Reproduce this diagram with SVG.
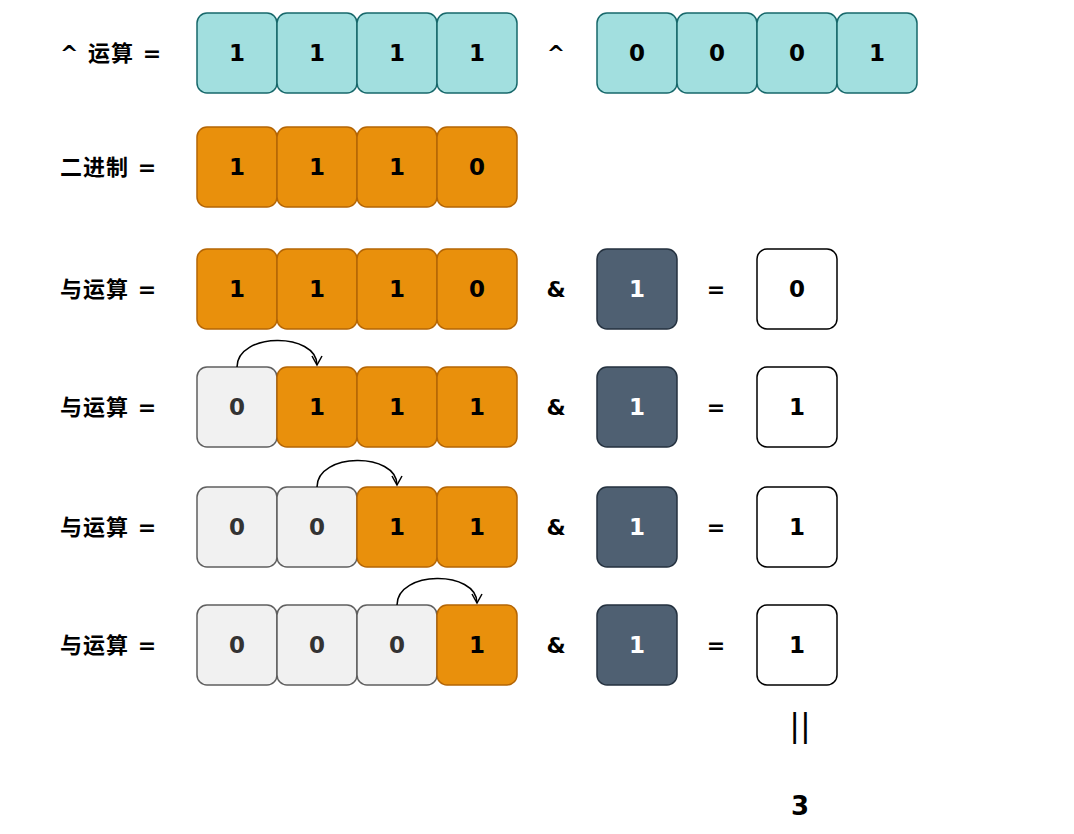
<svg xmlns="http://www.w3.org/2000/svg" width="1074" height="834" viewBox="0 0 1074 834">
<style>
.b{stroke-width:1.5}
.t{fill:#a2dfdf;stroke:#17686b}
.o{fill:#e9900c;stroke:#b46504}
.g{fill:#f1f1f1;stroke:#5f5f5f}
.d{fill:#4f6072;stroke:#24313f}
.w{fill:#ffffff;stroke:#000000}
text{font-family:"DejaVu Sans","Noto Sans CJK SC",sans-serif;font-weight:bold;text-anchor:middle;dominant-baseline:central}
.v{font-size:23px;fill:#000}
.vw{font-size:23px;fill:#fff}
.vg{font-size:23px;fill:#333}
.l{font-size:22px;text-anchor:start;fill:#000;letter-spacing:1px}
.op{font-size:22px;fill:#000}
.c{fill:none;stroke:#000;stroke-width:1.5}
</style>
<defs>
<marker id="ah" markerWidth="12" markerHeight="12" refX="10" refY="6" orient="auto" markerUnits="userSpaceOnUse" viewBox="0 0 12 12">
<path d="M1,1 L10,6 L1,11" fill="none" stroke="#000" stroke-width="1.5"/>
</marker>
</defs>

<g id="row1">
<text class="l" x="60" y="53">^ 运算 =</text>
<rect class="b t" x="197" y="13" width="80" height="80" rx="10"/><text class="v" x="237" y="53">1</text>
<rect class="b t" x="277" y="13" width="80" height="80" rx="10"/><text class="v" x="317" y="53">1</text>
<rect class="b t" x="357" y="13" width="80" height="80" rx="10"/><text class="v" x="397" y="53">1</text>
<rect class="b t" x="437" y="13" width="80" height="80" rx="10"/><text class="v" x="477" y="53">1</text>
<text class="op" x="556" y="53">^</text>
<rect class="b t" x="597" y="13" width="80" height="80" rx="10"/><text class="v" x="637" y="53">0</text>
<rect class="b t" x="677" y="13" width="80" height="80" rx="10"/><text class="v" x="717" y="53">0</text>
<rect class="b t" x="757" y="13" width="80" height="80" rx="10"/><text class="v" x="797" y="53">0</text>
<rect class="b t" x="837" y="13" width="80" height="80" rx="10"/><text class="v" x="877" y="53">1</text>
</g>

<g id="row2">
<text class="l" x="60" y="167">二进制 =</text>
<rect class="b o" x="197" y="127" width="80" height="80" rx="10"/><text class="v" x="237" y="167">1</text>
<rect class="b o" x="277" y="127" width="80" height="80" rx="10"/><text class="v" x="317" y="167">1</text>
<rect class="b o" x="357" y="127" width="80" height="80" rx="10"/><text class="v" x="397" y="167">1</text>
<rect class="b o" x="437" y="127" width="80" height="80" rx="10"/><text class="v" x="477" y="167">0</text>
</g>

<g id="row3">
<text class="l" x="60" y="289">与运算 =</text>
<rect class="b o" x="197" y="249" width="80" height="80" rx="10"/><text class="v" x="237" y="289">1</text>
<rect class="b o" x="277" y="249" width="80" height="80" rx="10"/><text class="v" x="317" y="289">1</text>
<rect class="b o" x="357" y="249" width="80" height="80" rx="10"/><text class="v" x="397" y="289">1</text>
<rect class="b o" x="437" y="249" width="80" height="80" rx="10"/><text class="v" x="477" y="289">0</text>
<text class="op" x="556" y="289">&amp;</text>
<rect class="b d" x="597" y="249" width="80" height="80" rx="10"/><text class="vw" x="637" y="289">1</text>
<text class="op" x="716" y="289">=</text>
<rect class="b w" x="757" y="249" width="80" height="80" rx="10"/><text class="v" x="797" y="289">0</text>
</g>

<g id="row4">
<text class="l" x="60" y="407">与运算 =</text>
<rect class="b g" x="197" y="367" width="80" height="80" rx="10"/><text class="vg" x="237" y="407">0</text>
<rect class="b o" x="277" y="367" width="80" height="80" rx="10"/><text class="v" x="317" y="407">1</text>
<rect class="b o" x="357" y="367" width="80" height="80" rx="10"/><text class="v" x="397" y="407">1</text>
<rect class="b o" x="437" y="367" width="80" height="80" rx="10"/><text class="v" x="477" y="407">1</text>
<text class="op" x="556" y="407">&amp;</text>
<rect class="b d" x="597" y="367" width="80" height="80" rx="10"/><text class="vw" x="637" y="407">1</text>
<text class="op" x="716" y="407">=</text>
<rect class="b w" x="757" y="367" width="80" height="80" rx="10"/><text class="v" x="797" y="407">1</text>
</g>

<g id="row5">
<text class="l" x="60" y="527">与运算 =</text>
<rect class="b g" x="197" y="487" width="80" height="80" rx="10"/><text class="vg" x="237" y="527">0</text>
<rect class="b g" x="277" y="487" width="80" height="80" rx="10"/><text class="vg" x="317" y="527">0</text>
<rect class="b o" x="357" y="487" width="80" height="80" rx="10"/><text class="v" x="397" y="527">1</text>
<rect class="b o" x="437" y="487" width="80" height="80" rx="10"/><text class="v" x="477" y="527">1</text>
<text class="op" x="556" y="527">&amp;</text>
<rect class="b d" x="597" y="487" width="80" height="80" rx="10"/><text class="vw" x="637" y="527">1</text>
<text class="op" x="716" y="527">=</text>
<rect class="b w" x="757" y="487" width="80" height="80" rx="10"/><text class="v" x="797" y="527">1</text>
</g>

<g id="row6">
<text class="l" x="60" y="645">与运算 =</text>
<rect class="b g" x="197" y="605" width="80" height="80" rx="10"/><text class="vg" x="237" y="645">0</text>
<rect class="b g" x="277" y="605" width="80" height="80" rx="10"/><text class="vg" x="317" y="645">0</text>
<rect class="b g" x="357" y="605" width="80" height="80" rx="10"/><text class="vg" x="397" y="645">0</text>
<rect class="b o" x="437" y="605" width="80" height="80" rx="10"/><text class="v" x="477" y="645">1</text>
<text class="op" x="556" y="645">&amp;</text>
<rect class="b d" x="597" y="605" width="80" height="80" rx="10"/><text class="vw" x="637" y="645">1</text>
<text class="op" x="716" y="645">=</text>
<rect class="b w" x="757" y="605" width="80" height="80" rx="10"/><text class="v" x="797" y="645">1</text>
</g>

<g id="result">
<text class="op" x="800" y="725" style="font-size:32px;font-weight:normal">||</text>
<text class="op" x="800" y="806" style="font-size:26px">3</text>
</g>

<g id="connectors">
<path class="c" d="M237,367 C237,332 317,332 317,365" marker-end="url(#ah)"/>
<path class="c" d="M317,487 C317,452 397,452 397,485" marker-end="url(#ah)"/>
<path class="c" d="M397,605 C397,570 477,570 477,603" marker-end="url(#ah)"/>
</g>
</svg>
